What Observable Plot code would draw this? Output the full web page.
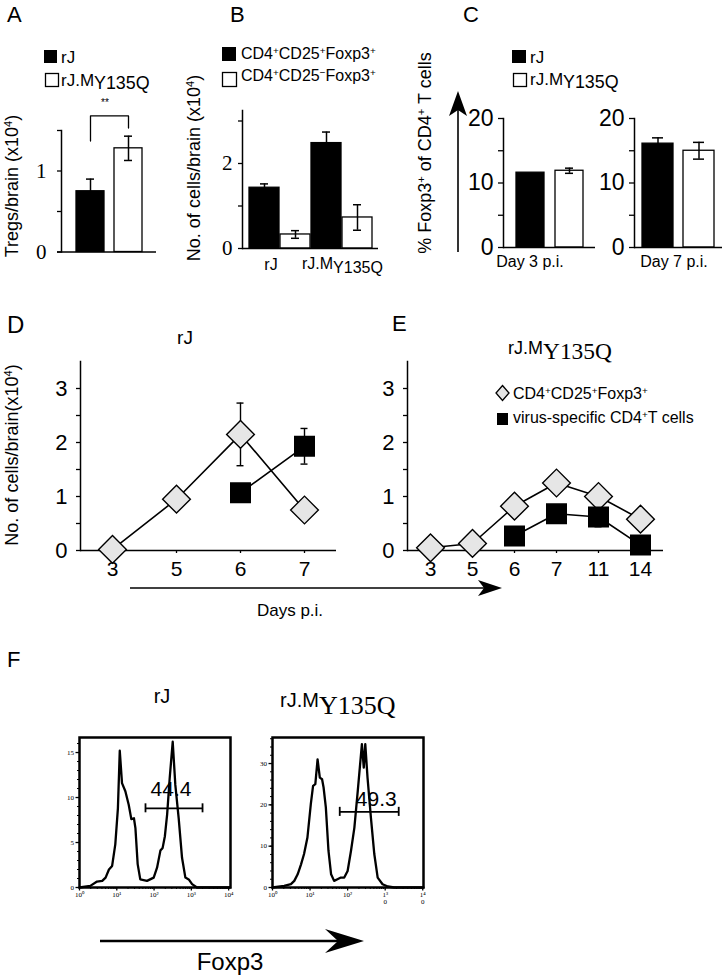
<!DOCTYPE html>
<html><head><meta charset="utf-8">
<script src="https://cdn.jsdelivr.net/npm/d3@7"></script>
<script src="https://cdn.jsdelivr.net/npm/@observablehq/plot@0.6"></script>
<style>
html,body{margin:0;padding:0;background:#fff;}
#root{position:relative;width:723px;height:977px;overflow:hidden;font-family:'Liberation Sans',Arial,sans-serif;color:#000;}
</style></head><body><div id="root"></div>
<script>
// ---------------- DATA ----------------
// Panel A: Tregs per brain (x10^4)
const groupsA = ["rJ", "rJ.MY135Q"];
const tregsA = [0.75, 1.28];
const tregsErrA = [0.15, 0.15];
// Panel B: No. of cells/brain (x10^4)
const groupsB = ["rJ", "rJ.MY135Q"];
const subsetsB = ["CD4+CD25+Foxp3+", "CD4+CD25-Foxp3+"];
const cd25posB = [1.43, 2.48];
const cd25posErrB = [0.09, 0.26];
const cd25negB = [0.33, 0.73];
const cd25negErrB = [0.09, 0.30];
// Panel C: % Foxp3+ of CD4+ T cells
const daysC = ["Day 3 p.i.", "Day 7 p.i."];
const strainsC = ["rJ", "rJ.MY135Q"];
const foxpRJ = [11.6, 16.1];
const foxpRJErr = [0, 0.9];
const foxpMut = [11.9, 15.0];
const foxpMutErr = [0.4, 1.3];
// Panel D: rJ kinetics
const daysD = ["3", "5", "6", "7"];
const tregD = [0.02, 0.95, 2.15, 0.75];
const tregErrD = [0, 0, 0.58, 0];
const virusDaysD = ["6", "7"];
const virusD = [1.07, 1.93];
const virusErrD = [0, 0.33];
// Panel E: rJ.MY135Q kinetics
const daysE = ["3", "5", "6", "7", "11", "14"];
const tregE = [0.05, 0.13, 0.82, 1.25, 1.0, 0.58];
const tregErrE = [0, 0, 0, 0, 0, 0];
const virusDaysE = ["6", "7", "11", "14"];
const virusE = [0.27, 0.68, 0.62, 0.1];
const virusErrE = [0, 0, 0.18, 0];
// Panel F: Foxp3 histograms (log10 fluorescence, counts)
const logRJ = [0, 0.29, 0.47, 0.61, 0.70, 0.79, 0.875, 0.96, 1.03, 1.08, 1.14, 1.23, 1.32, 1.39, 1.46, 1.50, 1.56, 1.63, 1.81, 1.99, 2.08, 2.17, 2.23, 2.29, 2.35, 2.42, 2.50, 2.57, 2.66, 2.75, 2.84, 2.93, 3.02, 3.15, 4.04];
const countRJ = [0, 0.18, 0.66, 0.74, 1.1, 2.0, 2.4, 4.8, 8.8, 15.2, 11.6, 10.7, 9.2, 7.6, 7.7, 6.6, 2.6, 0.9, 0.74, 1.1, 2.2, 4.1, 4.4, 5.7, 8.1, 12.2, 16.2, 11.4, 7.7, 3.3, 1.1, 0.9, 0.37, 0, 0];
const logMut = [0, 0.31, 0.49, 0.58, 0.67, 0.76, 0.84, 0.93, 1.02, 1.08, 1.14, 1.20, 1.26, 1.32, 1.36, 1.42, 1.49, 1.56, 1.64, 1.73, 1.82, 1.91, 2.0, 2.09, 2.18, 2.27, 2.34, 2.38, 2.43, 2.47, 2.53, 2.62, 2.71, 2.80, 2.93, 3.07, 3.24, 4.02];
const countMut = [0, 0.4, 0.8, 1.6, 3.2, 5.6, 8.1, 12.1, 20.2, 24.6, 25.0, 31.0, 26.6, 26.2, 24.2, 19.4, 8.9, 3.2, 1.6, 2.0, 2.4, 2.4, 4.0, 8.9, 14.5, 23.4, 30.6, 34.7, 29.0, 34.7, 26.6, 16.9, 8.1, 2.4, 0.8, 0.24, 0, 0];
const gateRJ = [1.77, 3.30, 8.8];   // x1, x2 (log10), y (count)
const gateMut = [1.79, 3.36, 18.3];
const gateLabels = ["44.4", "49.3"];
const decadeLabels = ["10⁰", "10¹", "10²", "10³", "10⁴"];

// ---------------- HELPERS ----------------
const root = document.getElementById("root");
const SANS = "'Liberation Sans', Arial, sans-serif";
const SERIF = "'Liberation Serif', 'Times New Roman', serif";

function T(html, x, base, fs, anchor = "start", family = SANS) {
  const d = document.createElement("div");
  d.innerHTML = html;
  Object.assign(d.style, {position: "absolute", left: x + "px", top: (base - 0.85 * fs) + "px",
    fontSize: fs + "px", lineHeight: "1", whiteSpace: "nowrap", fontFamily: family, color: "#000"});
  if (anchor === "middle") d.style.transform = "translateX(-50%)";
  if (anchor === "end") d.style.transform = "translateX(-100%)";
  root.append(d);
  return d;
}
function V(html, cx, cy, fs) {
  const d = document.createElement("div");
  d.innerHTML = html;
  Object.assign(d.style, {position: "absolute", left: cx + "px", top: cy + "px", fontSize: fs + "px",
    lineHeight: "1", whiteSpace: "nowrap", fontFamily: SANS, transform: "translate(-50%,-50%) rotate(-90deg)"});
  root.append(d);
}
const sup = s => `<span style="font-size:0.62em;position:relative;top:-0.55em">${s}</span>`;
const subY = (scale, shift, fam) => `<span style="font-family:${fam};font-size:${scale}em;position:relative;top:${shift}em">Y135Q</span>`;

function chart(f, pad, options) {
  const [pt, pr, pb, pl] = pad;
  const svg = Plot.plot({
    width: f.r - f.l + pl + pr, height: f.b - f.t + pt + pb,
    marginTop: pt, marginRight: pr, marginBottom: pb, marginLeft: pl,
    style: {background: "transparent", overflow: "visible", fontFamily: SANS, color: "black"},
    ...options
  });
  svg.style.position = "absolute";
  svg.style.left = (f.l - pl) + "px";
  svg.style.top = (f.t - pt) + "px";
  root.append(svg);
  return svg;
}
function barErr(rows, inset) {
  const er = rows.filter(d => d.e > 0);
  return [
    Plot.ruleX(er, {x: "k", y1: d => d.v - d.e, y2: d => d.v + d.e, stroke: "black", strokeWidth: 1.5}),
    Plot.tickY(er, {x: "k", y: d => d.v + d.e, insetLeft: inset, insetRight: inset, stroke: "black", strokeWidth: 1.5}),
    Plot.tickY(er, {x: "k", y: d => d.v - d.e, insetLeft: inset, insetRight: inset, stroke: "black", strokeWidth: 1.5})
  ];
}
function pointErr(rows, cap) {
  const er = rows.filter(d => d.e > 0);
  return [
    Plot.ruleX(er, {x: "k", y1: d => d.v - d.e, y2: d => d.v + d.e, stroke: "black", strokeWidth: 1.4}),
    Plot.ruleY(er, {x1: "k", x2: "k", y: d => d.v + d.e, insetLeft: -cap, insetRight: -cap, stroke: "black", strokeWidth: 1.4}),
    Plot.ruleY(er, {x1: "k", x2: "k", y: d => d.v - d.e, insetLeft: -cap, insetRight: -cap, stroke: "black", strokeWidth: 1.4})
  ];
}

// ---------------- PANEL A ----------------
const rowsA = groupsA.map((k, i) => ({k, v: tregsA[i], e: tregsErrA[i], fill: i ? "white" : "black"}));
const bracketA = [{k: groupsA[0], y: 1.37}, {k: groupsA[0], y: 1.68}, {k: groupsA[1], y: 1.68}, {k: groupsA[1], y: 1.53}];
chart({l: 61, r: 156, t: 129.5, b: 251}, [30, 10, 12, 60], {
  x: {domain: groupsA, paddingInner: 0.27, paddingOuter: 0.37, axis: null},
  y: {domain: [0, 1.5], axis: null},
  color: {type: "identity"},
  marks: [
    Plot.barY(rowsA, {x: "k", y: "v", fill: "fill", stroke: "black", strokeWidth: 1.3}),
    ...barErr(rowsA, 10),
    Plot.line(bracketA, {x: "k", y: "y", stroke: "black", strokeWidth: 1.3}),
    Plot.axisY({ticks: [0, 0.5, 1, 1.5], tickFormat: d => (d === 0 || d === 1) ? String(d) : "", label: null, tickSize: 4, tickPadding: 11, fontSize: 21, fontFamily: SERIF, strokeWidth: 1.3}),
    Plot.frame({anchor: "left", strokeWidth: 1.5}),
    Plot.ruleY([0], {strokeWidth: 1.5, insetLeft: -4})
  ]
});

// ---------------- PANEL B ----------------
const rowsB = groupsB.flatMap((g, i) => [
  {k: g + "|" + subsetsB[0], v: cd25posB[i], e: cd25posErrB[i], fill: "black"},
  {k: g + "|" + subsetsB[1], v: cd25negB[i], e: cd25negErrB[i], fill: "white"}
]);
chart({l: 242, r: 378, t: 110, b: 248}, [10, 10, 12, 40], {
  x: {domain: rowsB.map(d => d.k), paddingInner: 0.04, paddingOuter: 0.15, axis: null},
  y: {domain: [0, 3.247], axis: null},
  color: {type: "identity"},
  marks: [
    Plot.barY(rowsB, {x: "k", y: "v", fill: "fill", stroke: "black", strokeWidth: 1.3}),
    ...barErr(rowsB, 11),
    Plot.axisY({ticks: [0, 1, 2, 3], tickFormat: d => (d === 0 || d === 2) ? String(d) : "", label: null, tickSize: 4, tickPadding: 6, fontSize: 21, fontFamily: SERIF, strokeWidth: 1.3}),
    Plot.frame({anchor: "left", strokeWidth: 1.5}),
    Plot.ruleY([0], {strokeWidth: 1.5})
  ]
});

// ---------------- PANEL C ----------------
function panelC(idx, f, pi, po) {
  const rows = [
    {k: strainsC[0], v: foxpRJ[idx], e: foxpRJErr[idx], fill: "black"},
    {k: strainsC[1], v: foxpMut[idx], e: foxpMutErr[idx], fill: "white"}
  ];
  chart(f, [12, 6, 10, 45], {
    x: {domain: strainsC, paddingInner: pi, paddingOuter: po, axis: null},
    y: {domain: [0, 20], axis: null},
    color: {type: "identity"},
    marks: [
      Plot.barY(rows, {x: "k", y: "v", fill: "fill", stroke: "black", strokeWidth: 1.3}),
      ...barErr(rows, 10),
      Plot.axisY({ticks: [0, 5, 10, 15, 20], tickFormat: d => d % 10 === 0 ? String(d) : "", label: null, tickSize: 5, tickPadding: 5, fontSize: 23, strokeWidth: 1.3}),
      Plot.frame({anchor: "left", strokeWidth: 1.5}),
      Plot.ruleY([0], {strokeWidth: 1.5})
    ]
  });
}
panelC(0, {l: 503, r: 595, t: 118, b: 247}, 0.29, 0.31);
panelC(1, {l: 634, r: 722, t: 118, b: 247}, 0.24, 0.17);

// ---------------- PANELS D & E ----------------
function kinetics(days, tv, te, vdays, vv, ve, f) {
  const rowsT = days.map((k, i) => ({k, v: tv[i], e: te[i]}));
  const rowsV = vdays.map((k, i) => ({k, v: vv[i], e: ve[i]}));
  chart(f, [10, 20, 40, 45], {
    x: {type: "point", domain: days, padding: 0.5, axis: null},
    y: {domain: [0, 3.5], axis: null},
    marks: [
      Plot.frame({anchor: "left", strokeWidth: 1.5}),
      Plot.ruleY([0], {strokeWidth: 1.5}),
      Plot.axisY({ticks: d3.range(0, 3.01, 0.5), tickFormat: d => Number.isInteger(d) ? String(d) : "", label: null, tickSize: 4, tickPadding: 9, fontSize: 22, strokeWidth: 1.3}),
      Plot.axisX({label: null, tickSize: 3, tickPadding: 8, fontSize: 21, strokeWidth: 1.3}),
      ...pointErr(rowsT, 3.5),
      ...pointErr(rowsV, 3.5),
      Plot.line(rowsT, {x: "k", y: "v", stroke: "black", strokeWidth: 1.6}),
      Plot.line(rowsV, {x: "k", y: "v", stroke: "black", strokeWidth: 1.6}),
      Plot.dot(rowsT, {x: "k", y: "v", symbol: "diamond2", r: 12.5, fill: "#e6e6e6", stroke: "black", strokeWidth: 1.4}),
      Plot.dot(rowsV, {x: "k", y: "v", symbol: "square", r: 11, fill: "black", stroke: "black"})
    ]
  });
}
kinetics(daysD, tregD, tregErrD, virusDaysD, virusD, virusErrD, {l: 80, r: 336, t: 361, b: 550});
kinetics(daysE, tregE, tregErrE, virusDaysE, virusE, virusErrE, {l: 407, r: 663, t: 361, b: 550});

// ---------------- PANEL F ----------------
const minorLog = d3.range(0, 4).flatMap(k => d3.range(2, 10).map(m => k + Math.log10(m)));
function histo(xs, ys, gate, label, f, xmax, ymax, yMajor, yMinor, fmt, capU, ldx, ldy) {
  const rows = xs.map((x, i) => ({x, y: ys[i]}));
  const g = [{x1: gate[0], x2: gate[1], y: gate[2]}];
  chart(f, [8, 8, 30, 30], {
    x: {domain: [0, xmax], axis: null},
    y: {domain: [0, ymax], axis: null},
    marks: [
      Plot.axisX({ticks: minorLog, tickFormat: () => "", label: null, tickSize: 2, strokeWidth: 1}),
      Plot.axisX({ticks: [0, 1, 2, 3, 4], tickFormat: fmt, label: null, tickSize: 3.5, tickPadding: 2, fontSize: 7, fontFamily: SERIF, lineHeight: 0.9, strokeWidth: 1.3}),
      Plot.axisY({ticks: yMinor, tickFormat: () => "", label: null, tickSize: 2, strokeWidth: 1}),
      Plot.axisY({ticks: yMajor, label: null, tickSize: 3.5, tickPadding: 2, fontSize: 7, fontFamily: SERIF, strokeWidth: 1.3}),
      Plot.line(rows, {x: "x", y: "y", stroke: "black", strokeWidth: 2.3}),
      Plot.ruleY(g, {x1: "x1", x2: "x2", y: "y", stroke: "black", strokeWidth: 1.8}),
      Plot.ruleX(g, {x: "x1", y1: d => d.y - capU, y2: d => d.y + capU, stroke: "black", strokeWidth: 1.8}),
      Plot.ruleX(g, {x: "x2", y1: d => d.y - capU, y2: d => d.y + capU, stroke: "black", strokeWidth: 1.8}),
      Plot.text(g, {x: d => (d.x1 + d.x2) / 2, y: "y", text: () => label, dx: ldx, dy: ldy, lineAnchor: "bottom", fontSize: 21, fill: "black"}),
      Plot.frame({stroke: "black", strokeWidth: 2.5})
    ]
  });
}
histo(logRJ, countRJ, gateRJ, gateLabels[0], {l: 79, r: 230, t: 737, b: 887}, 4.05, 16.67,
  [0, 5, 10, 15], d3.range(0, 17), d => decadeLabels[d], 0.5, -3, -12);
histo(logMut, countMut, gateMut, gateLabels[1], {l: 272, r: 423, t: 737, b: 887}, 4.02, 36.3,
  [0, 10, 20, 30], d3.range(0, 37, 2), d => d >= 3 ? "1" + decadeLabels[d].slice(2) + "\n0" : decadeLabels[d], 1.1, 7, -6);

// ---------------- OVERLAY (legend keys, arrows) ----------------
root.insertAdjacentHTML("beforeend", `<svg width="723" height="977" style="position:absolute;left:0;top:0;pointer-events:none">
  <rect x="44" y="50" width="13" height="13" fill="#000"/>
  <rect x="45.5" y="73.5" width="13" height="13" fill="#fff" stroke="#000" stroke-width="1.3"/>
  <rect x="222" y="47" width="14" height="14" fill="#000"/>
  <rect x="222.5" y="72.5" width="14" height="14" fill="#fff" stroke="#000" stroke-width="1.3"/>
  <rect x="512" y="50" width="14" height="13" fill="#000"/>
  <rect x="513.5" y="73.5" width="13" height="13" fill="#fff" stroke="#000" stroke-width="1.3"/>
  <polygon points="502.5,385.5 509,393 502.5,400.5 496,393" fill="#e6e6e6" stroke="#000" stroke-width="1.3"/>
  <rect x="497" y="413" width="11" height="12" fill="#000"/>
  <line x1="458" y1="252" x2="458" y2="106" stroke="#000" stroke-width="1.6"/>
  <polygon points="458,91 449,116 458,110 467,116" fill="#000"/>
  <line x1="130" y1="588" x2="488" y2="588" stroke="#000" stroke-width="1.6"/>
  <polygon points="502,588 478,580 484,588 478,596" fill="#000"/>
  <line x1="100" y1="941" x2="345" y2="941" stroke="#000" stroke-width="2.4"/>
  <polygon points="364,941 325,929 338,941 325,953" fill="#000"/>
</svg>`);

// ---------------- TEXT ----------------
T("A", 7, 23, 22); T("B", 230, 23, 22); T("C", 463, 23, 22);
T("D", 7, 333, 24); T("E", 392, 332, 22); T("F", 7, 668, 22);
// legends
T("rJ", 61, 63, 17);
T("rJ.M" + subY(1.05, 0.18, SANS), 61, 86, 17);
T("CD4" + sup("+") + "CD25" + sup("+") + "Foxp3" + sup("+"), 241, 60, 16);
T("CD4" + sup("+") + "CD25" + sup("−") + "Foxp3" + sup("+"), 241, 82, 16);
T("rJ", 530, 63, 17);
T("rJ.M" + subY(1.05, 0.18, SANS), 530, 85, 17);
T("CD4" + sup("+") + "CD25" + sup("+") + "Foxp3" + sup("+"), 513, 400, 16);
T("virus-specific CD4" + sup("+") + "T cells", 513, 424, 16);
T("**", 105, 106, 10, "middle");
// axis titles
V("Tregs/brain (x10" + sup("4") + ")", 12, 186, 18);
V("No. of cells/brain (x10" + sup("4") + ")", 194, 168, 18);
V("% Foxp3" + sup("+") + " of CD4" + sup("+") + " T cells", 425, 153, 18);
V("No. of cells/brain(x10" + sup("4") + ")", 12, 455, 18);
// category labels
T("rJ", 271, 271, 16, "middle");
T("rJ.M" + subY(1.0, 0.2, SANS), 302, 270, 16);
T(daysC[0], 530, 268, 16, "middle");
T(daysC[1], 674, 268, 16, "middle");
// titles
T("rJ", 185, 344, 19, "middle");
T("rJ.M" + subY(1.3, 0.22, SERIF), 508, 350, 18);
T("Days p.i.", 290, 616, 17, "middle");
T("rJ", 162, 703, 20, "middle");
T("rJ.M" + subY(1.3, 0.28, SERIF), 280, 703, 20);
T("Foxp3", 230, 970, 24, "middle");
</script></body></html>
